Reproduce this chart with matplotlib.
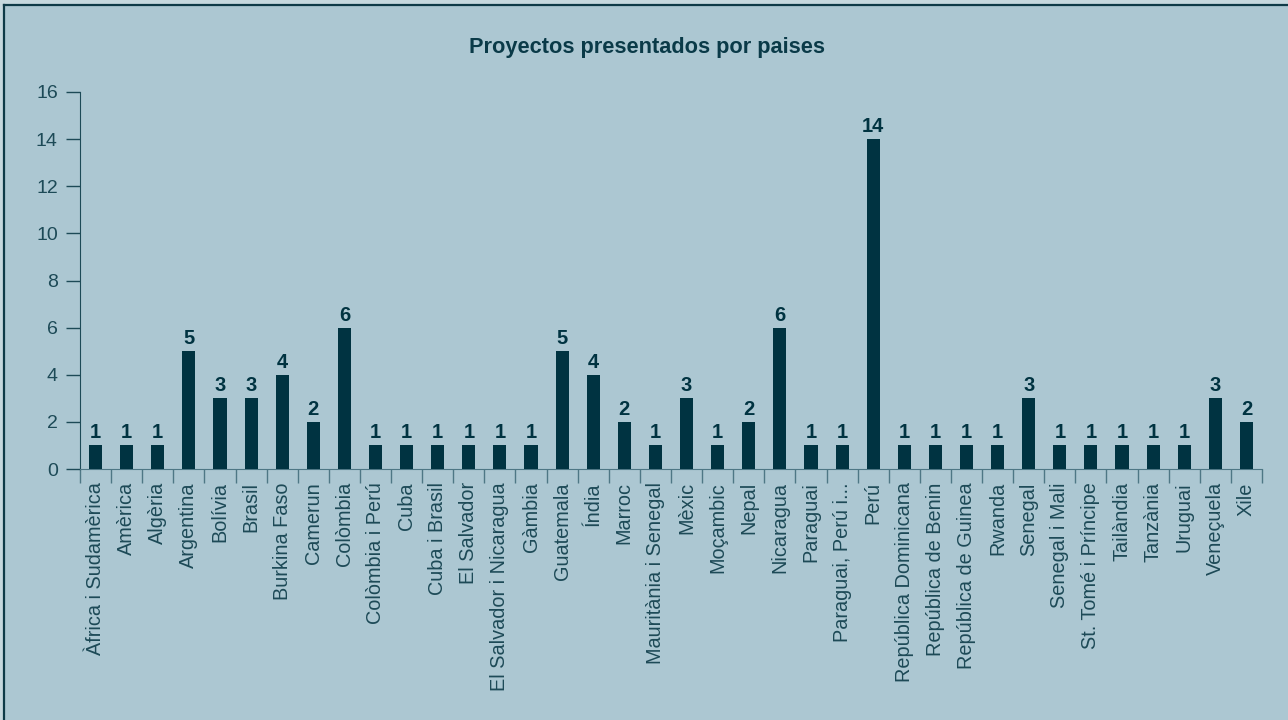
import matplotlib
matplotlib.use("Agg")
import matplotlib.pyplot as plt
from matplotlib.patches import Rectangle
from matplotlib.lines import Line2D

# ---------------------------------------------------------------------------
# data
# ---------------------------------------------------------------------------
paises = [
    "Àfrica i Sudamèrica", "Amèrica", "Algèria", "Argentina", "Bolívia",
    "Brasil", "Burkina Faso", "Camerun", "Colòmbia", "Colòmbia i Perú",
    "Cuba", "Cuba i Brasil", "El Salvador", "El Salvador i Nicaragua",
    "Gàmbia", "Guatemala", "Índia", "Marroc", "Mauritània i Senegal",
    "Mèxic", "Moçambic", "Nepal", "Nicaragua", "Paraguai",
    "Paraguai, Perú i...", "Perú", "República Dominicana",
    "República de Benin", "República de Guinea", "Rwanda", "Senegal",
    "Senegal i Mali", "St. Tomé i Príncipe", "Tailàndia", "Tanzània",
    "Uruguai", "Veneçuela", "Xile",
]
proyectos = [1, 1, 1, 5, 3, 3, 4, 2, 6, 1, 1, 1, 1, 1, 1, 5, 4, 2, 1, 3,
             1, 2, 6, 1, 1, 14, 1, 1, 1, 1, 3, 1, 1, 1, 1, 1, 3, 2]
yticks = [0, 2, 4, 6, 8, 10, 12, 14, 16]

BG     = "#acc7d2"
EDGE   = "#c6d8de"
BAR    = "#003341"
TXT    = "#1d4a57"
XAXIS  = "#4e7785"
FRAME  = "#0e3a47"

plt.rcParams["font.family"] = ["Liberation Sans", "DejaVu Sans"]

W, H = 1288, 720
fig = plt.figure(figsize=(W / 100, H / 100), dpi=100, facecolor=EDGE)
fig.patches.append(Rectangle((4 / W, 0), 1 - 4 / W, 1 - 5 / H,
                             transform=fig.transFigure, color=BG, zorder=-10))
fig.add_artist(Line2D([4 / W, 1], [1 - 5 / H, 1 - 5 / H], color=FRAME, lw=1.6))
fig.add_artist(Line2D([4 / W, 4 / W], [0, 1 - 5 / H], color=FRAME, lw=1.6))

ax = fig.add_axes([80 / W, 1 - 469 / H, (1262 - 80) / W, (469 - 92) / H])
ax.set_facecolor("none")

x = list(range(len(paises)))
ax.bar(x, proyectos, width=0.42, color=BAR, zorder=3)

for xi, v in zip(x, proyectos):
    ax.annotate(str(v), (xi, v), xytext=(0, 5), textcoords="offset points",
                ha="center", va="baseline", fontsize=14.5, fontweight="bold",
                color=BAR)

ax.set_xlim(-0.5, len(paises) - 0.5)
ax.set_ylim(0, 16)
ax.set_yticks(yticks)
ax.set_yticklabels([str(t) for t in yticks])

# x ticks sit on the category boundaries, labels on the centres
ax.set_xticks([i - 0.5 for i in range(len(paises) + 1)])
ax.set_xticklabels([])
ax.set_xticks(x, minor=True)
ax.set_xticklabels(paises, minor=True, rotation=90, fontsize=14.3, color=TXT)
ax.tick_params(axis="x", which="major", length=10, width=1, color=XAXIS)
ax.tick_params(axis="x", which="minor", length=0, pad=9.5)
ax.tick_params(axis="y", length=10, width=1, color=TXT, labelsize=14,
               labelcolor=TXT, pad=6)

for s in ("top", "right"):
    ax.spines[s].set_visible(False)
ax.spines["left"].set_color(TXT)
ax.spines["left"].set_bounds(0, 16)
ax.spines["bottom"].set_color(XAXIS)

fig.text(0.5 + 3 / W, 1 - 47 / H, "Proyectos presentados por paises",
         ha="center", va="center", fontsize=15.7, fontweight="bold",
         color="#0a3a48")

fig.savefig("out.png", dpi=100, facecolor=fig.get_facecolor())
